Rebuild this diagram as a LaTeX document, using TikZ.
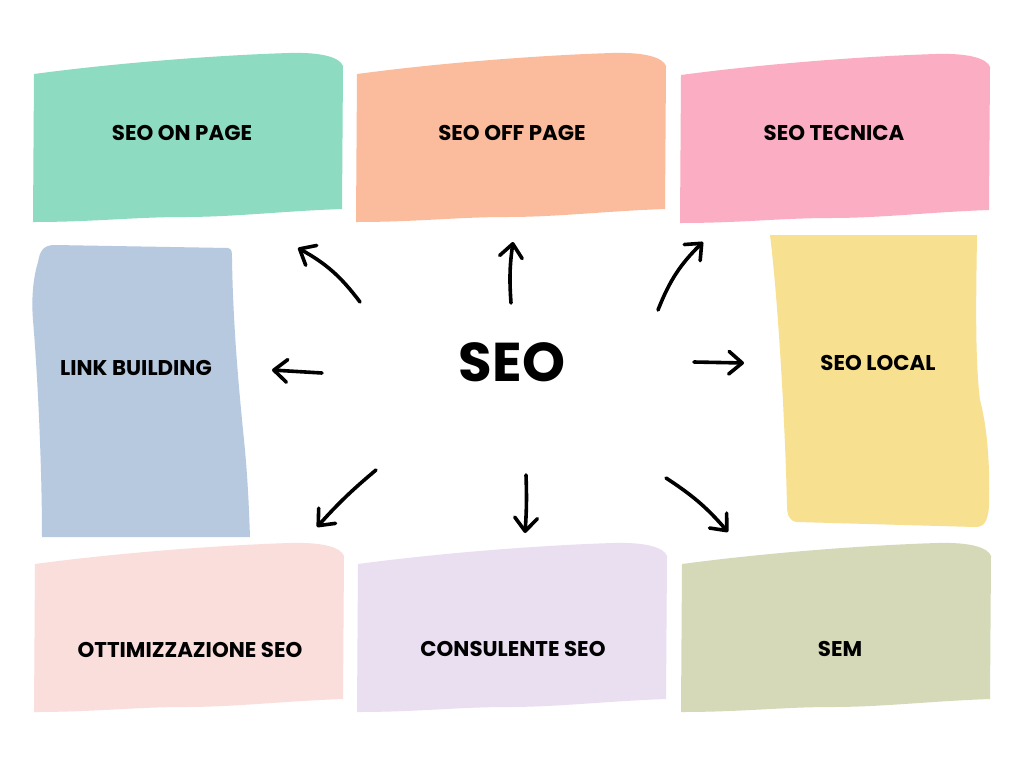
\documentclass[tikz,border=0pt]{standalone}
\usepackage{fontspec}
\newfontfamily\lblfont{Poppins}
\usetikzlibrary{arrows.meta}
\definecolor{cgreen}{HTML}{8DDBC0}
\definecolor{cpeach}{HTML}{FBBC9E}
\definecolor{cpink}{HTML}{FBAEC3}
\definecolor{cblue}{HTML}{B6C9DF}
\definecolor{cyellow}{HTML}{F7E191}
\definecolor{crose}{HTML}{F9DEDC}
\definecolor{clav}{HTML}{EADFF1}
\definecolor{csage}{HTML}{D5D9B8}
\newcommand\wavyrect[3]{%
  \fill[#1, shift={(#2,#3)}] (0,2) .. controls (90,-10) and (190,-17) .. (255,-19)
    .. controls (290,-20) and (306,-14) .. (309,-6) -- (308,137)
    .. controls (250,139) and (200,145) .. (150,145)
    .. controls (100,145) and (60,150) .. (-1,150) -- cycle;}
\tikzset{
  lbl/.style={font=\lblfont\bfseries\fontsize{16}{18}\selectfont, text=black, inner sep=0pt},
  arr/.style={line width=2.7pt, line cap=round, line join=round,
    -{Straight Barb[length=10pt,width=17pt,round]}},
}
\begin{document}
\begin{tikzpicture}[x=0.75pt,y=-0.75pt]
\useasboundingbox (0,0) rectangle (1024,768);
\fill[white] (0,0) rectangle (1024,768);
% top row
\wavyrect{cgreen}{34}{72}
\wavyrect{cpeach}{357}{72}
\wavyrect{cpink}{681}{73}
% bottom row
\wavyrect{crose}{35}{562}
\wavyrect{clav}{358}{562}
\wavyrect{csage}{682}{562}
% link building
\fill[cblue] (38,262) .. controls (40,250) and (44,245) .. (55,245) -- (228,248)
  .. controls (232,249) and (232,252) .. (232,258)
  .. controls (233,330) and (240,400) .. (244,440)
  .. controls (248,480) and (249,510) .. (250,537) -- (42,537)
  .. controls (42,470) and (38,380) .. (33,320)
  .. controls (31,295) and (34,275) .. (38,262) -- cycle;
% seo local
\fill[cyellow] (770,235) -- (977,235)
  .. controls (976,300) and (975,360) .. (980,400)
  .. controls (988,430) and (990,470) .. (989,505)
  .. controls (988,522) and (984,527) .. (975,527) -- (797,522)
  .. controls (789,521) and (787,515) .. (787,505)
  .. controls (785,420) and (778,300) .. (770,235) -- cycle;
% labels
\node[lbl] (onpage) at (182,133) {SEO ON PAGE};
\node[lbl] (offpage) at (512,133) {SEO OFF PAGE};
\node[lbl] (tecnica) at (834,133) {SEO TECNICA};
\node[lbl] (link) at (136,368) {LINK BUILDING};
\node[lbl] (local) at (878,363) {SEO LOCAL};
\node[lbl] (ottim) at (190,650) {OTTIMIZZAZIONE SEO};
\node[lbl] (consul) at (513,649) {CONSULENTE SEO};
\node[lbl] (sem) at (840,649) {SEM};
\node[font=\lblfont\bfseries\fontsize{41}{44}\selectfont, inner sep=0pt] (seo) at (512,362) {SEO};
% arrow end points
\coordinate (a1s) at (360,302); \coordinate (a1e) at (298,248);
\coordinate (a2s) at (511,303); \coordinate (a2e) at (513,242);
\coordinate (a3s) at (658,310); \coordinate (a3e) at (703,242);
\coordinate (a4s) at (322,373); \coordinate (a4e) at (272,370);
\coordinate (a5s) at (694,362); \coordinate (a5e) at (744,363);
\coordinate (a6s) at (376,470); \coordinate (a6e) at (317,527);
\coordinate (a7s) at (526,475); \coordinate (a7e) at (525,533);
\coordinate (a8s) at (666,478); \coordinate (a8e) at (728,532);
\draw[arr] (a1s) to[bend right=12] (a1e);
\draw[arr] (a2s) to[bend left=6] (a2e);
\draw[arr] (a3s) to[bend left=12] (a3e);
\draw[arr] (a4s) -- (a4e);
\draw[arr] (a5s) -- (a5e);
\draw[arr] (a6s) to[bend right=4] (a6e);
\draw[arr] (a7s) to[bend left=3] (a7e);
\draw[arr] (a8s) to[bend left=8] (a8e);
\end{tikzpicture}
\end{document}
